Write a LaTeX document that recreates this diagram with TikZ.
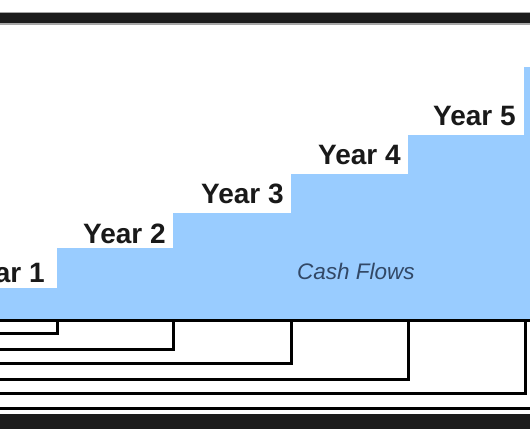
\documentclass[tikz,border=0pt]{standalone}
\usepackage{fontspec}
\setmainfont{Liberation Sans}
\definecolor{stepblue}{RGB}{153,204,255}
\definecolor{cashtext}{RGB}{50,72,102}
\definecolor{barblack}{RGB}{28,28,28}
\tikzset{
  yearlabel/.style={anchor=base west, inner sep=0pt, font=\fontsize{28}{30}\selectfont\bfseries, text=black!90},
  cashlabel/.style={anchor=base west, inner sep=0pt, font=\fontsize{22.5}{25}\selectfont\itshape, text=cashtext},
  bracket/.style={line width=3pt, black, line join=miter},
}
\begin{document}
\begin{tikzpicture}[x=1pt, y=-1pt]
\useasboundingbox (0,0) rectangle (530,442);
\clip (0,0) rectangle (530,442);
\fill[white] (0,0) rectangle (530,442);
% top bar
\fill[black!35] (0,11.5) rectangle (530,24.5);
\fill[barblack] (0,13) rectangle (530,23);
% staircase
\fill[stepblue] (0,319) -- (0,288) -- (57,288) -- (57,248) -- (173,248) -- (173,213)
  -- (291,213) -- (291,174) -- (408,174) -- (408,135) -- (524,135) -- (524,67)
  -- (530,67) -- (530,319) -- cycle;
% labels
\node[yearlabel] (y1) at (-38,282) {Year 1};
\node[yearlabel] (y2) at (83,243) {Year 2};
\node[yearlabel] (y3) at (201,203) {Year 3};
\node[yearlabel] (y4) at (318,164) {Year 4};
\node[yearlabel] (y5) at (433,125) {Year 5};
\node[cashlabel] (cf) at (297,279) {Cash Flows};
% timeline brackets
\draw[bracket] (0,320.5) -- (530,320.5);
\draw[bracket] (0,333) -- (57,333) -- (57,320);
\draw[bracket] (0,349) -- (173,349) -- (173,320);
\draw[bracket] (0,363.5) -- (291,363.5) -- (291,320);
\draw[bracket] (0,379) -- (408,379) -- (408,320);
\draw[bracket] (0,393) -- (525,393) -- (525,320);
\draw[bracket] (0,408) -- (530,408);
% bottom bar
\fill[barblack] (0,414) rectangle (530,429);
\end{tikzpicture}
\end{document}
